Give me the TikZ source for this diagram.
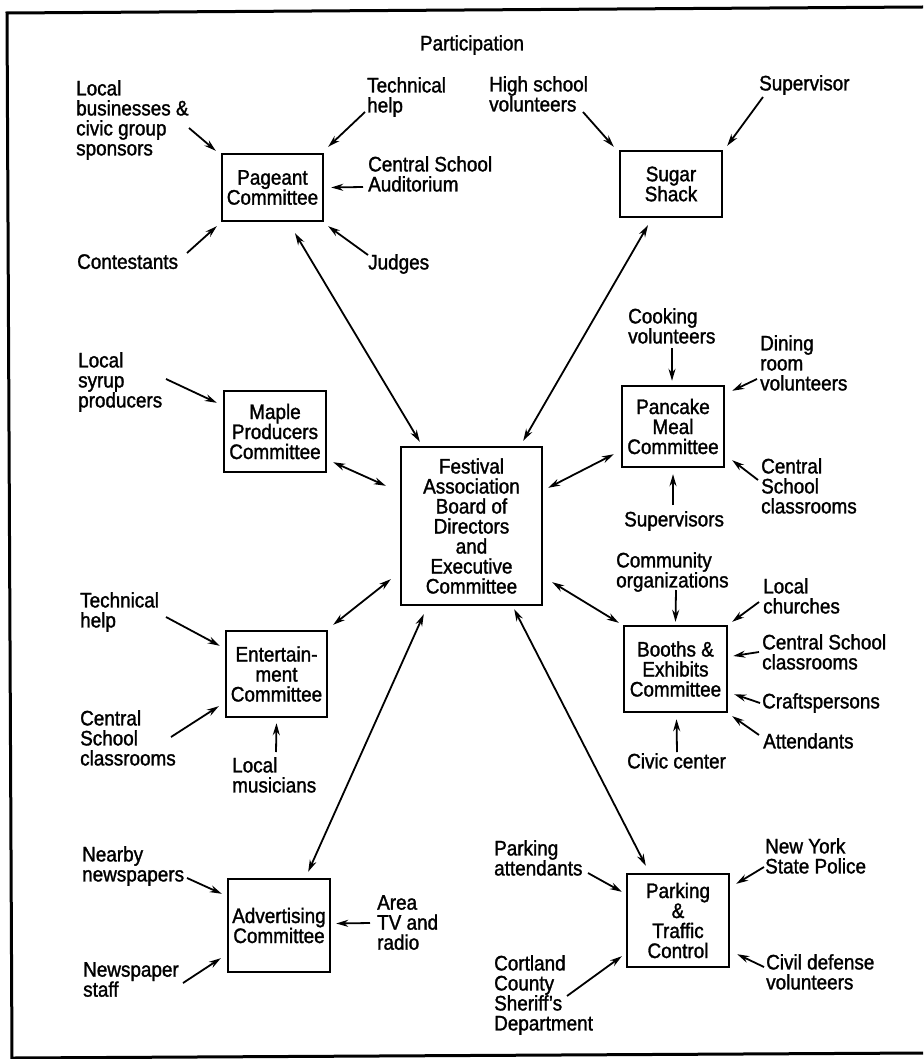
\documentclass[tikz,border=0pt]{standalone}
\usepackage{fontspec}
\setmainfont{Liberation Sans}[FakeStretch=0.9, FakeBold=1.4]
\usetikzlibrary{arrows.meta}

\tikzset{
  cbox/.style={draw, line width=2.4pt, align=center, inner sep=0pt},
  lbl/.style={anchor=north west, align=left, inner sep=0pt},
  arr/.style={-{Stealth[length=12pt,width=7pt]}, line width=1.8pt},
  twoway/.style={{Stealth[length=12pt,width=7pt]}-{Stealth[length=12pt,width=7pt]}, line width=1.8pt},
}

\begin{document}
\begin{tikzpicture}[x=1pt, y=-1pt, every node/.style={font=\fontsize{21}{20}\selectfont}]
    \useasboundingbox (0,0) rectangle (923,1059);
    \fill[white] (0,0) rectangle (923,1059);

    % frame (open on the right)
    \draw[line width=3pt] (923,7) -- (7,13) -- (12,1059);
    \draw[line width=3pt] (13,1058) -- (923,1053);

    \node[anchor=north, inner sep=0pt] (part) at (472,35) {Participation};

    % committees
    \node[cbox, minimum width=141, minimum height=158] (fab) at (471.5,526)
        {Festival\\Association\\Board of\\Directors\\and\\Executive\\Committee};
    \node[cbox, minimum width=101, minimum height=67] (pag) at (272.5,187.5) {Pageant\\Committee};
    \node[cbox, minimum width=102, minimum height=66] (ssk) at (671,184) {Sugar\\Shack};
    \node[cbox, minimum width=102, minimum height=81] (mpc) at (275,431.5) {Maple\\Producers\\Committee};
    \node[cbox, minimum width=102, minimum height=81] (pmc) at (673,426.5) {Pancake\\Meal\\Committee};
    \node[cbox, minimum width=101, minimum height=86] (ent) at (276.5,674) {Entertain-\\ment\\Committee};
    \node[cbox, minimum width=103, minimum height=86] (bec) at (675.5,669) {Booths \&\\Exhibits\\Committee};
    \node[cbox, minimum width=102, minimum height=93] (adv) at (279,925.5) {Advertising\\Committee};
    \node[cbox, minimum width=102, minimum height=93] (ptc) at (678,920.5) {Parking\\\&\\Traffic\\Control};

    % links to the board
    \draw[twoway] ([shift={(22.5,11)}]pag.south) -- ([shift={(20,-4)}]fab.north west);
    \draw[twoway] ([shift={(-23,7)}]ssk.south) -- ([shift={(-20,-5)}]fab.north east);
    \draw[twoway] ([shift={(6,-11)}]mpc.south east) -- ([shift={(-14,40)}]fab.north west);
    \draw[twoway] ([shift={(-7,-14)}]pmc.south west) -- ([shift={(5,42)}]fab.north east);
    \draw[twoway] ([shift={(5,-5)}]ent.north east) -- ([shift={(-9,-27)}]fab.south west);
    \draw[twoway] ([shift={(-4,-2)}]bec.north west) -- ([shift={(9,-24)}]fab.south east);
    \draw[twoway] ([shift={(-23,-6)}]adv.north east) -- ([shift={(24,8)}]fab.south west);
    \draw[twoway] ([shift={(20,-7)}]ptc.north west) -- ([shift={(-29,3)}]fab.south east);

    % Pageant
    \node[lbl] (lbs) at (76,80) {Local\\businesses \&\\civic group\\sponsors};
    \node[lbl] (th1) at (367,77) {Technical\\help};
    \node[lbl] (csa) at (368,156) {Central School\\Auditorium};
    \node[lbl] (con) at (77,254) {Contestants};
    \node[lbl] (jud) at (368,254) {Judges};
    \draw[arr] ([shift={(113,48)}]lbs.north west) -- ([shift={(-5,-2)}]pag.north west);
    \draw[arr] ([shift={(-2,35)}]th1.north west) -- ([shift={(4,-6)}]pag.north east);
    \draw[arr] ([shift={(-5,31)}]csa.north west) -- ([shift={(7,0)}]pag.east);
    \draw[arr] ([shift={(110,-1)}]con.north west) -- ([shift={(-4,4)}]pag.south west);
    \draw[arr] ([shift={(0,1)}]jud.north west) -- ([shift={(4,4)}]pag.south east);

    % Sugar Shack
    \node[lbl] (hsv) at (489,76) {High school\\volunteers};
    \node[lbl] (sup) at (759,75) {Supervisor};
    \draw[arr] ([shift={(94,36)}]hsv.north west) -- ([shift={(-5,-3)}]ssk.north west);
    \draw[arr] ([shift={(4,22)}]sup.north west) -- ([shift={(4,-4)}]ssk.north east);

    % Maple producers
    \node[lbl] (lsp) at (78,352) {Local\\syrup\\producers};
    \draw[arr] ([shift={(88,27)}]lsp.north west) -- ([shift={(-6,13)}]mpc.north west);

    % Entertainment
    \node[lbl] (th2) at (80,592) {Technical\\help};
    \node[lbl] (cs1) at (80,710) {Central\\School\\classrooms};
    \node[lbl] (lmu) at (232,757) {Local\\musicians};
    \draw[arr] ([shift={(86,25)}]th2.north west) -- ([shift={(-5,16)}]ent.north west);
    \draw[arr] ([shift={(91,27)}]cs1.north west) -- ([shift={(-6,-12)}]ent.south west);
    \draw[arr] ([shift={(44,-5)}]lmu.north west) -- ([shift={(0,5)}]ent.south);

    % Advertising
    \node[lbl] (nnp) at (82,846) {Nearby\\newspapers};
    \node[lbl] (atv) at (377,895) {Area\\TV and\\radio};
    \node[lbl] (nps) at (83,962) {Newspaper\\staff};
    \draw[arr] ([shift={(105,32)}]nnp.north west) -- ([shift={(-5,16)}]adv.north west);
    \draw[arr] ([shift={(-7,28)}]atv.north west) -- ([shift={(5,-2)}]adv.east);
    \draw[arr] ([shift={(100,21)}]nps.north west) -- ([shift={(-6,-15)}]adv.south west);

    % Pancake meal
    \node[lbl] (cook) at (628,308) {Cooking\\volunteers};
    \node[lbl] (drv) at (760,335) {Dining\\room\\volunteers};
    \node[lbl] (cs2) at (761,458) {Central\\School\\classrooms};
    \node[lbl] (sups) at (624,511) {Supervisors};
    \draw[arr] ([shift={(44,40)}]cook.north west) -- ([shift={(-1,-4)}]pmc.north);
    \draw[arr] ([shift={(-3,44)}]drv.north west) -- ([shift={(7,6)}]pmc.north east);
    \draw[arr] ([shift={(-3,22)}]cs2.north west) -- ([shift={(7,-8)}]pmc.south east);
    \draw[arr] ([shift={(49,-6)}]sups.north west) -- ([shift={(0,6)}]pmc.south);

    % Booths and exhibits
    \node[lbl] (corg) at (616,552) {Community\\organizations};
    \node[lbl] (lch) at (763,578) {Local\\churches};
    \node[lbl] (cs3) at (762,634) {Central School\\classrooms};
    \node[lbl] (cra) at (762,693) {Craftspersons};
    \node[lbl] (att) at (763,733) {Attendants};
    \node[lbl] (civ) at (627,753) {Civic center};
    \draw[arr] ([shift={(60,38)}]corg.north west) -- ([shift={(0,-3)}]bec.north);
    \draw[arr] ([shift={(-4,24)}]lch.north west) -- ([shift={(4,-3)}]bec.north east);
    \draw[arr] ([shift={(-3,18)}]cs3.north west) -- ([shift={(5,-13)}]bec.east);
    \draw[arr] ([shift={(-2,10)}]cra.north west) -- ([shift={(6,-19)}]bec.south east);
    \draw[arr] ([shift={(-4,2)}]att.north west) -- ([shift={(4,3)}]bec.south east);
    \draw[arr] ([shift={(50,-1)}]civ.north west) -- ([shift={(1,6)}]bec.south);

    % Parking and traffic
    \node[lbl] (pat) at (494,840) {Parking\\attendants};
    \node[lbl] (ccs) at (494,955) {Cortland\\County\\Sheriff's\\Department};
    \node[lbl] (nys) at (765,838) {New York\\State Police};
    \node[lbl] (cdv) at (766,954) {Civil defense\\volunteers};
    \draw[arr] ([shift={(94,33)}]pat.north west) -- ([shift={(-4,19)}]ptc.north west);
    \draw[arr] ([shift={(73,41)}]ccs.north west) -- ([shift={(-4,-12)}]ptc.south west);
    \draw[arr] ([shift={(-1,29)}]nys.north west) -- ([shift={(6,11)}]ptc.north east);
    \draw[arr] ([shift={(-2,13)}]cdv.north west) -- ([shift={(7,-14)}]ptc.south east);
\end{tikzpicture}
\end{document}
